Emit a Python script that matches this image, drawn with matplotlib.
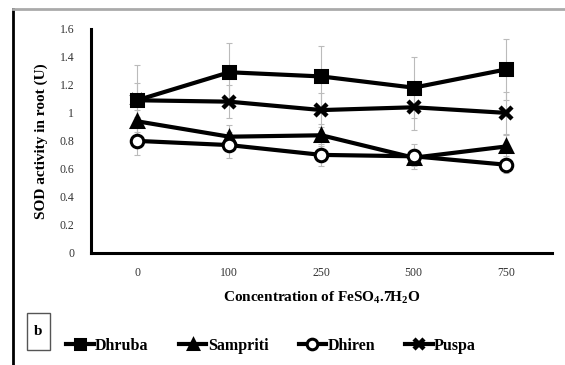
import numpy as np
import matplotlib.pyplot as plt
from matplotlib.lines import Line2D
from matplotlib.patches import Rectangle

# FeSO4 concentrations and SOD activity per variety
conc = ['0', '100', '250', '500', '750']
dhruba = [1.09, 1.29, 1.26, 1.18, 1.31]
sampriti = [0.94, 0.83, 0.84, 0.68, 0.76]
dhiren = [0.80, 0.77, 0.70, 0.69, 0.63]
puspa = [1.09, 1.08, 1.02, 1.04, 1.00]

dhruba_err = [0.25, 0.21, 0.22, 0.22, 0.22]
sampriti_err = [0.08, 0.08, 0.08, 0.06, 0.08]
dhiren_err = [0.10, 0.09, 0.08, 0.09, 0.06]
puspa_err = [0.12, 0.12, 0.12, 0.16, 0.15]

plt.rcParams['font.family'] = ['Liberation Serif', 'DejaVu Serif']
plt.rcParams['mathtext.fontset'] = 'custom'
plt.rcParams['mathtext.rm'] = 'Liberation Serif:bold'
plt.rcParams['mathtext.it'] = 'Liberation Serif:bold'
plt.rcParams['mathtext.bf'] = 'Liberation Serif:bold'

fig = plt.figure(figsize=(5.65, 3.65), dpi=100)
ax = fig.add_axes([0.161, 0.307, 0.816, 0.614])

x = np.arange(len(conc))
series = [
    (dhruba, dhruba_err, 's', 'black', 9, 'Dhruba'),
    (sampriti, sampriti_err, '^', 'black', 9, 'Sampriti'),
    (dhiren, dhiren_err, 'o', 'white', 9, 'Dhiren'),
    (puspa, puspa_err, 'x', 'black', 8, 'Puspa'),
]

# light error bars first, then the lines on top
for vals, err, mk, fc, ms, name in series:
    ax.errorbar(x, vals, yerr=err, fmt='none', ecolor='#bbbbbb',
                elinewidth=0.8, capsize=2.5, capthick=0.8, zorder=1)
handles = []
for vals, err, mk, fc, ms, name in series:
    mew = 3.2 if mk == 'x' else 2.2
    h, = ax.plot(x, vals, color='black', lw=3, marker=mk, ms=ms,
                 mfc=fc, mec='black', mew=mew, label=name, zorder=3)
    handles.append(h)

ax.set_xlim(-0.5, len(conc) - 0.5)
ax.set_ylim(0, 1.6)
ax.set_xticks(x)
ax.set_xticklabels(conc)
ax.set_yticks(np.arange(0, 1.61, 0.2))
ax.set_yticklabels(['0', '0.2', '0.4', '0.6', '0.8', '1', '1.2', '1.4', '1.6'])
ax.tick_params(length=0, labelsize=8.5, labelcolor='#333333', pad=10)
ax.tick_params(axis='y', pad=12)
for s in ['top', 'right']:
    ax.spines[s].set_visible(False)
for s in ['left', 'bottom']:
    ax.spines[s].set_linewidth(2.2)

ax.set_ylabel('SOD activity in root (U)', fontsize=11, fontweight='bold', labelpad=8)
ax.set_xlabel('Concentration of FeSO$_4$.7H$_2$O', fontsize=11, fontweight='bold', labelpad=8)

fig.legend(handles=handles, loc='center', bbox_to_anchor=(0.48, 0.052), ncol=4,
           frameon=False, prop={'weight': 'bold', 'size': 11.5},
           handlelength=1.7, handletextpad=0.1, columnspacing=1.9, markerscale=0.85)

# panel frame and panel letter
fig.add_artist(Line2D([0.023, 0.023], [0.0, 0.975], color='black', lw=2))
fig.add_artist(Line2D([0.023, 1.0], [0.975, 0.975], color='#aaaaaa', lw=2))
fig.add_artist(Rectangle((0.048, 0.04), 0.041, 0.102, fill=False, ec='#555555', lw=1))
fig.text(0.068, 0.091, 'b', ha='center', va='center', fontsize=11, fontweight='bold')

fig.savefig('out.png', dpi=100)
